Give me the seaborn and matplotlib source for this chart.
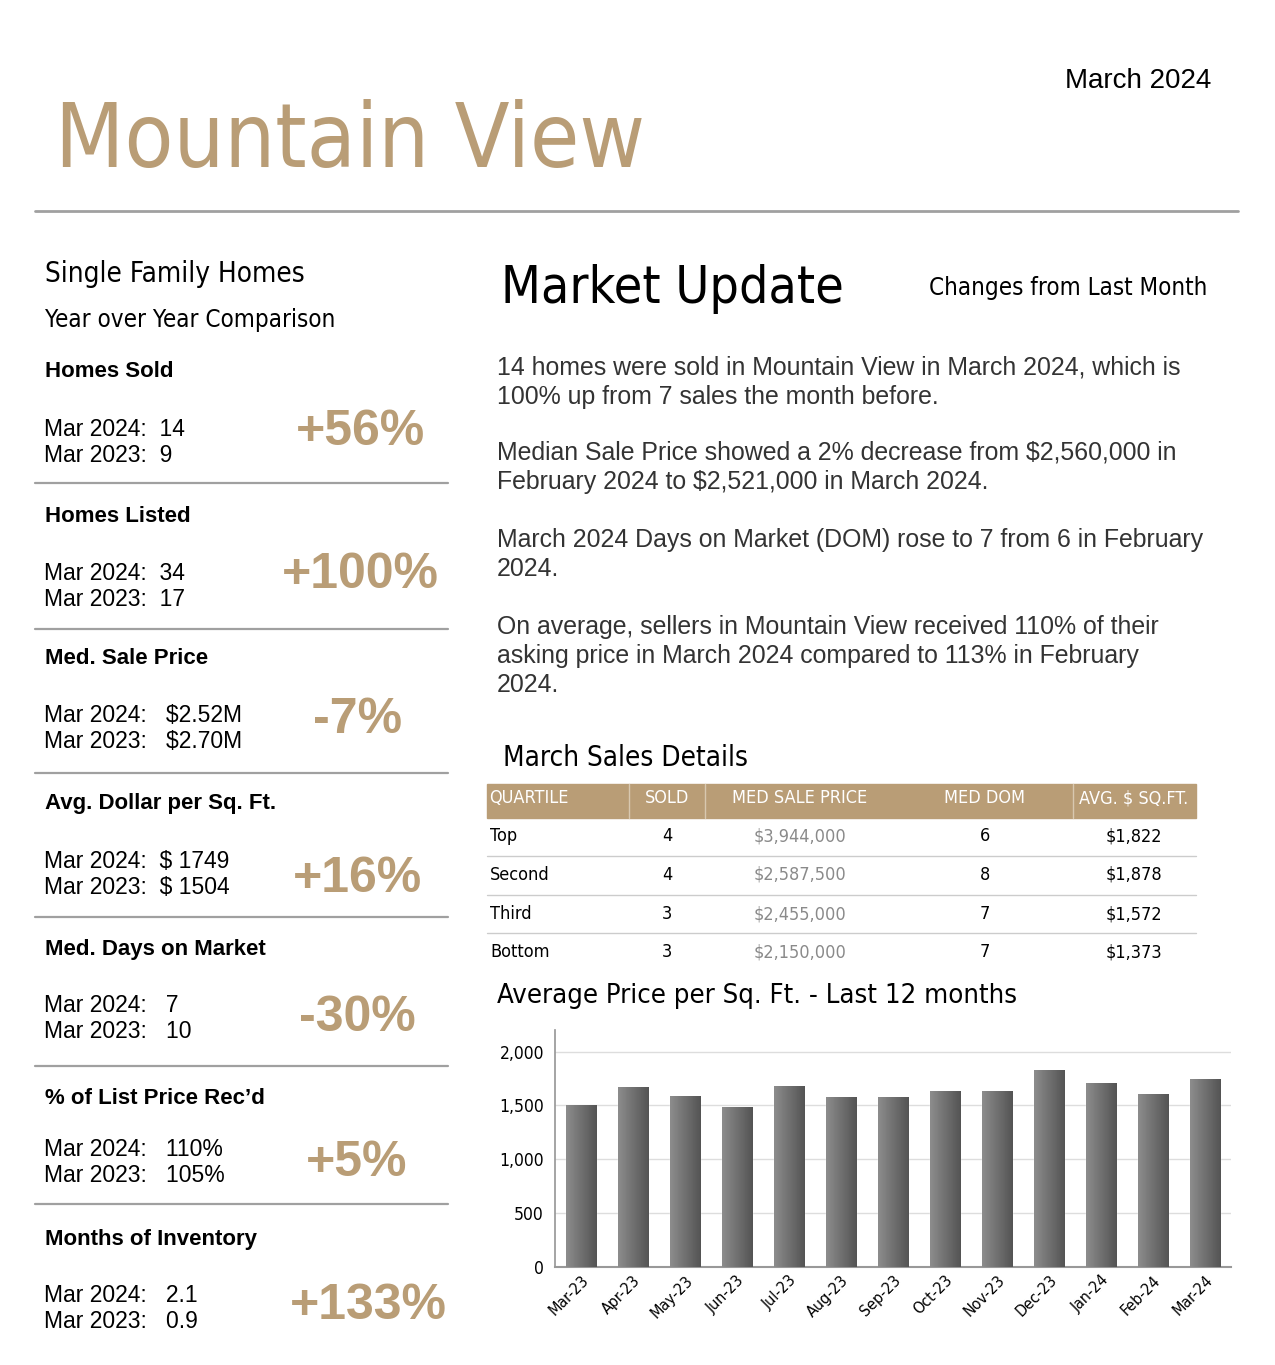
import numpy as np
import pandas as pd
import matplotlib
matplotlib.use("Agg")
import matplotlib.pyplot as plt
from matplotlib import font_manager as fm
import seaborn as sns

# ---- data ----
months = ["Mar-23", "Apr-23", "May-23", "Jun-23", "Jul-23", "Aug-23", "Sep-23",
          "Oct-23", "Nov-23", "Dec-23", "Jan-24", "Feb-24", "Mar-24"]
price_sqft = [1505, 1675, 1591, 1489, 1684, 1582, 1582, 1638, 1638, 1833, 1712, 1610, 1749]

stat_titles = ["Homes Sold", "Homes Listed", "Med. Sale Price", "Avg. Dollar per Sq. Ft.",
               "Med. Days on Market", "% of List Price Rec\u2019d", "Months of Inventory"]
stat_2024 = ["Mar 2024:  14", "Mar 2024:  34", "Mar 2024:   $2.52M", "Mar 2024:  $ 1749",
             "Mar 2024:   7", "Mar 2024:   110%", "Mar 2024:   2.1"]
stat_2023 = ["Mar 2023:  9", "Mar 2023:  17", "Mar 2023:   $2.70M", "Mar 2023:  $ 1504",
             "Mar 2023:   10", "Mar 2023:   105%", "Mar 2023:   0.9"]
stat_change = ["+56%", "+100%", "-7%", "+16%", "-30%", "+5%", "+133%"]

quartiles = ["Top", "Second", "Third", "Bottom"]
q_sold = ["4", "4", "3", "3"]
q_price = ["$3,944,000", "$2,587,500", "$2,455,000", "$2,150,000"]
q_dom = ["6", "8", "7", "7"]
q_sqft = ["$1,822", "$1,878", "$1,572", "$1,373"]
table_cols = ["QUARTILE", "SOLD", "MED SALE PRICE", "MED DOM", "AVG. $ SQ.FT."]

paragraphs = [
    ["14 homes were sold in Mountain View in March 2024, which is",
     "100% up from 7 sales the month before."],
    ["Median Sale Price showed a 2% decrease from $2,560,000 in",
     "February 2024 to $2,521,000 in March 2024."],
    ["March 2024 Days on Market (DOM) rose to 7 from 6 in February",
     "2024."],
    ["On average, sellers in Mountain View received 110% of their",
     "asking price in March 2024 compared to 113% in February",
     "2024."],
]

GOLD = "#b99d76"
W, H = 1275, 1365
sns.set_theme(style="white")
plt.rcParams['font.family'] = ['Liberation Sans', 'DejaVu Sans']
plt.rcParams['text.color'] = 'black'
plt.rcParams['axes.labelcolor'] = 'black'
plt.rcParams['xtick.color'] = 'black'
plt.rcParams['ytick.color'] = 'black'


# look for a narrow / condensed face
def find_narrow():
    best = None
    for f in fm.fontManager.ttflist:
        nm = f.name.lower()
        st = str(f.stretch).lower()
        if f.style != "normal" or f.weight not in (400, "normal", "regular", "book"):
            continue
        if "narrow" in nm or "condensed" in nm or "condensed" in st or "narrow" in st:
            score = 0 if "liberation" in nm else (1 if "dejavu" in nm else 2)
            if best is None or score < best[0]:
                best = (score, f.fname)
    return best[1] if best else None


narrow_path = find_narrow()


def narrow_fp(size):
    if narrow_path:
        return fm.FontProperties(fname=narrow_path, size=size)
    return fm.FontProperties(family="Liberation Sans", size=size)


fig = plt.figure(figsize=(W / 100, H / 100), dpi=100)
fig.patch.set_facecolor("white")
renderer = fig.canvas.get_renderer()


def px(x, y):
    return x / W, 1 - y / H


def txt(x, y, s, **kw):
    fx, fy = px(x, y)
    return fig.text(fx, fy, s, **kw)


def fit(x, y, s, width, size, **kw):
    # narrow-font text, size tuned so its width matches the reference
    t = txt(x, y, s, fontproperties=narrow_fp(size), **kw)
    w = t.get_window_extent(renderer).width
    t.set_fontproperties(narrow_fp(size * width / w))
    return t


def hline(x0, x1, y, color="#a0a0a0", lw=1.6):
    fig.add_artist(plt.Line2D([x0 / W, x1 / W], [1 - y / H, 1 - y / H],
                              color=color, lw=lw, transform=fig.transFigure))


# header
fit(55, 142, "Mountain View", 590, 70, color=GOLD, va="center")
txt(1211, 81, "March 2024", fontsize=20, ha="right", va="center")
hline(35, 1238, 211, lw=2)

# left column
fit(45, 274, "Single Family Homes", 260, 20, va="center")
fit(45, 320, "Year over Year Comparison", 289, 17, va="center")

head_y = [372, 516, 658, 803, 949, 1099, 1240]
val_y = [430, 573, 716, 861, 1005, 1149, 1295]
pct_y = [432, 575, 720, 879, 1018, 1163, 1306]
sep_y = [483, 629, 773, 917, 1066, 1204]
pct_x = [361, 360, 358, 357, 357, 357, 368]
for i in range(len(stat_titles)):
    txt(45, head_y[i], stat_titles[i], fontsize=16, fontweight="bold", va="center")
    txt(44, val_y[i], stat_2024[i], fontsize=16.5, va="center")
    txt(44, val_y[i] + 26, stat_2023[i], fontsize=16.5, va="center")
    txt(pct_x[i], pct_y[i], stat_change[i], fontsize=36, fontweight="bold",
        color=GOLD, ha="center", va="center")
for y in sep_y:
    hline(35, 448, y)

# market update
fit(501, 289, "Market Update", 342, 40, va="center")
fit(929, 288, "Changes from Last Month", 276, 17, va="center")

py = [368, 453, 540, 627]
for p, y0 in zip(paragraphs, py):
    for j, line in enumerate(p):
        txt(497, y0 + j * 29, line, fontsize=17.9, color="#333333", va="center")

# sales details table
fit(503, 758, "March Sales Details", 245, 22, va="center")
fx0, fy0 = px(487, 818)
fig.add_artist(plt.Rectangle((fx0, fy0), (1196 - 487) / W, 34 / H, color=GOLD,
                             transform=fig.transFigure, zorder=0))
for xs in [629, 705, 1073]:
    fig.add_artist(plt.Line2D([xs / W, xs / W], [1 - 784 / H, 1 - 818 / H], color="#d8c8b0",
                              lw=1, transform=fig.transFigure))
col_x = [489, 667, 800, 985, 1134]
col_ha = ["left", "center", "center", "center", "center"]
for c, x, ha in zip(table_cols, col_x, col_ha):
    txt(x, 798, c, fontproperties=narrow_fp(13), color="white", ha=ha, va="center")
row_y = [836, 875, 914, 952]
for i in range(len(quartiles)):
    y = row_y[i]
    txt(col_x[0] + 1, y, quartiles[i], fontproperties=narrow_fp(13), ha="left", va="center")
    txt(col_x[1], y, q_sold[i], fontproperties=narrow_fp(13), ha="center", va="center")
    txt(col_x[2], y, q_price[i], fontproperties=narrow_fp(13), color="#8a8a8a",
        ha="center", va="center")
    txt(col_x[3], y, q_dom[i], fontproperties=narrow_fp(13), ha="center", va="center")
    txt(col_x[4], y, q_sqft[i], fontproperties=narrow_fp(13), ha="center", va="center")
for y in [856, 895, 933]:
    hline(487, 1196, y, color="#cccccc", lw=1)

# bar chart
fit(497, 996, "Average Price per Sq. Ft. - Last 12 months", 521, 22, va="center")
ax = fig.add_axes([555 / W, 1 - 1267 / H, 676 / W, 237 / H])
df = pd.DataFrame({"month": months, "value": price_sqft})
sns.barplot(data=df, x="month", y="value", color="#6a6a6a", width=0.58, ax=ax, zorder=2)
grad = np.linspace(0.55, 0.33, 64).reshape(1, -1)
for bar in ax.patches:
    x0, y0 = bar.get_x(), bar.get_y()
    w, h = bar.get_width(), bar.get_height()
    im = ax.imshow(grad, cmap="gray", vmin=0, vmax=1, aspect="auto",
                   extent=[x0, x0 + w, y0, y0 + h], zorder=3)
    im.set_clip_path(bar)
ax.set_xlim(-0.5, len(months) - 0.5)
ax.set_ylim(0, 2200)
ax.set_yticks([0, 500, 1000, 1500, 2000])
ax.set_yticklabels(["0", "500", "1,000", "1,500", "2,000"])
ax.yaxis.grid(True, color="#dddddd", lw=1, zorder=0)
ax.set_axisbelow(True)
ax.set_xlabel("")
ax.set_ylabel("")
for s in ["top", "right"]:
    ax.spines[s].set_visible(False)
ax.spines["left"].set_color("#999999")
ax.spines["bottom"].set_color("#999999")
ax.spines["bottom"].set_linewidth(1.5)
ax.tick_params(axis="y", length=0, pad=8)
ax.tick_params(axis="x", length=0, pad=4)
for lab in ax.get_yticklabels():
    lab.set_fontproperties(narrow_fp(12.5))
for lab in ax.get_xticklabels():
    lab.set_fontproperties(narrow_fp(11.5))
    lab.set_rotation(45)
    lab.set_ha("right")
    lab.set_rotation_mode("anchor")

fig.savefig("out.png", dpi=100)
